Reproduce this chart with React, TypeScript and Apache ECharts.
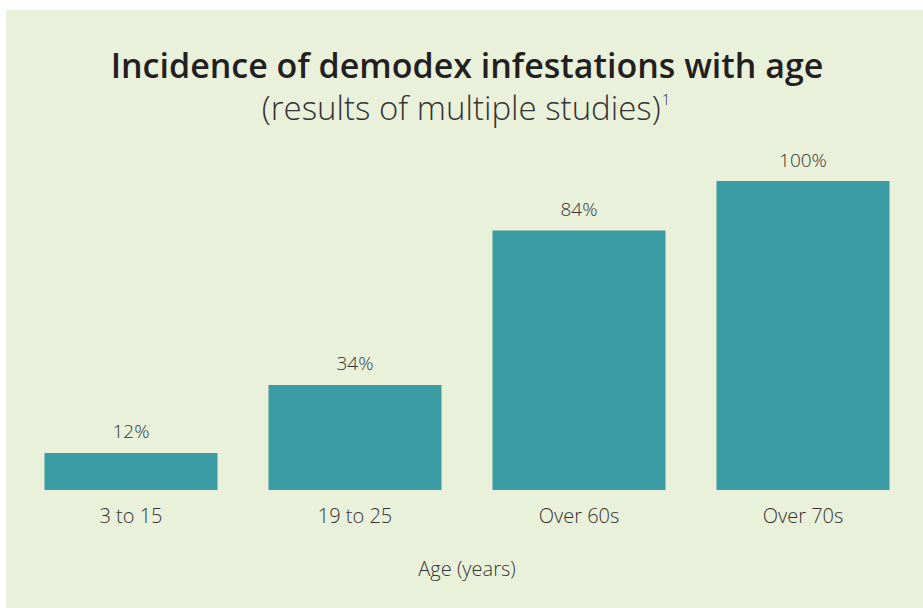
import React, { useEffect, useRef } from "react";
import * as echarts from "echarts";

const categories = ["3 to 15", "19 to 25", "Over 60s", "Over 70s"];
const values = [12, 34, 84, 100];
const titleText = "Incidence of demodex infestations with age";
const subtitleText = "(results of multiple studies)";
const xAxisName = "Age (years)";

export default function App() {
  const ref = useRef<HTMLDivElement>(null);
  useEffect(() => {
    document.body.style.margin = "0";
    const chart = echarts.init(ref.current!, null, { renderer: "svg" });
    const font = "'Open Sans', Lato, sans-serif";
    chart.setOption({
      animation: false,
      backgroundColor: "#ffffff",
      graphic: [
        {
          type: "rect",
          z: -10,
          shape: { x: 6, y: 10, width: 923, height: 608 },
          style: { fill: "#eaf1da" },
          silent: true,
        },
        {
          type: "text",
          x: 467,
          y: 65,
          style: {
            text: titleText,
            font: `600 34px ${font}`,
            lineHeight: 34,
            fill: "#231f20",
            align: "center",
            verticalAlign: "middle",
          },
        },
        {
          type: "text",
          x: 466,
          y: 107,
          style: {
            text: subtitleText + "{sup|1}",
            font: `300 33px ${font}`,
            lineHeight: 32,
            fill: "#333333",
            align: "center",
            verticalAlign: "middle",
            rich: {
              sup: {
                font: `300 15px ${font}`,
                lineHeight: 32,
                fill: "#333333",
                verticalAlign: "top",
                padding: [0, 0, 16, 1],
              },
            },
          },
        },
      ],
      grid: { left: 19, right: 8, top: 181, bottom: 118 },
      xAxis: {
        type: "category",
        data: categories,
        axisLine: { show: false },
        axisTick: { show: false },
        axisLabel: {
          color: "#333333",
          fontSize: 20,
          fontFamily: font,
          fontWeight: 300,
          margin: 15,
        },
        name: xAxisName,
        nameLocation: "middle",
        nameGap: 68,
        nameTextStyle: {
          color: "#333333",
          fontSize: 20,
          fontFamily: font,
          fontWeight: 300,
        },
      },
      yAxis: {
        type: "value",
        min: 0,
        max: 100,
        show: false,
      },
      series: [
        {
          type: "bar",
          data: values,
          barWidth: 173,
          itemStyle: { color: "#3c9ca3" },
          label: {
            show: true,
            position: "top",
            distance: 12,
            formatter: "{c}%",
            color: "#333333",
            fontSize: 19,
            fontFamily: font,
            fontWeight: 300,
          },
        },
      ],
    });
    return () => chart.dispose();
  }, []);
  return (
    <div
      ref={ref}
      style={{ position: "absolute", left: 0, top: 0, width: 923, height: 608 }}
    />
  );
}
